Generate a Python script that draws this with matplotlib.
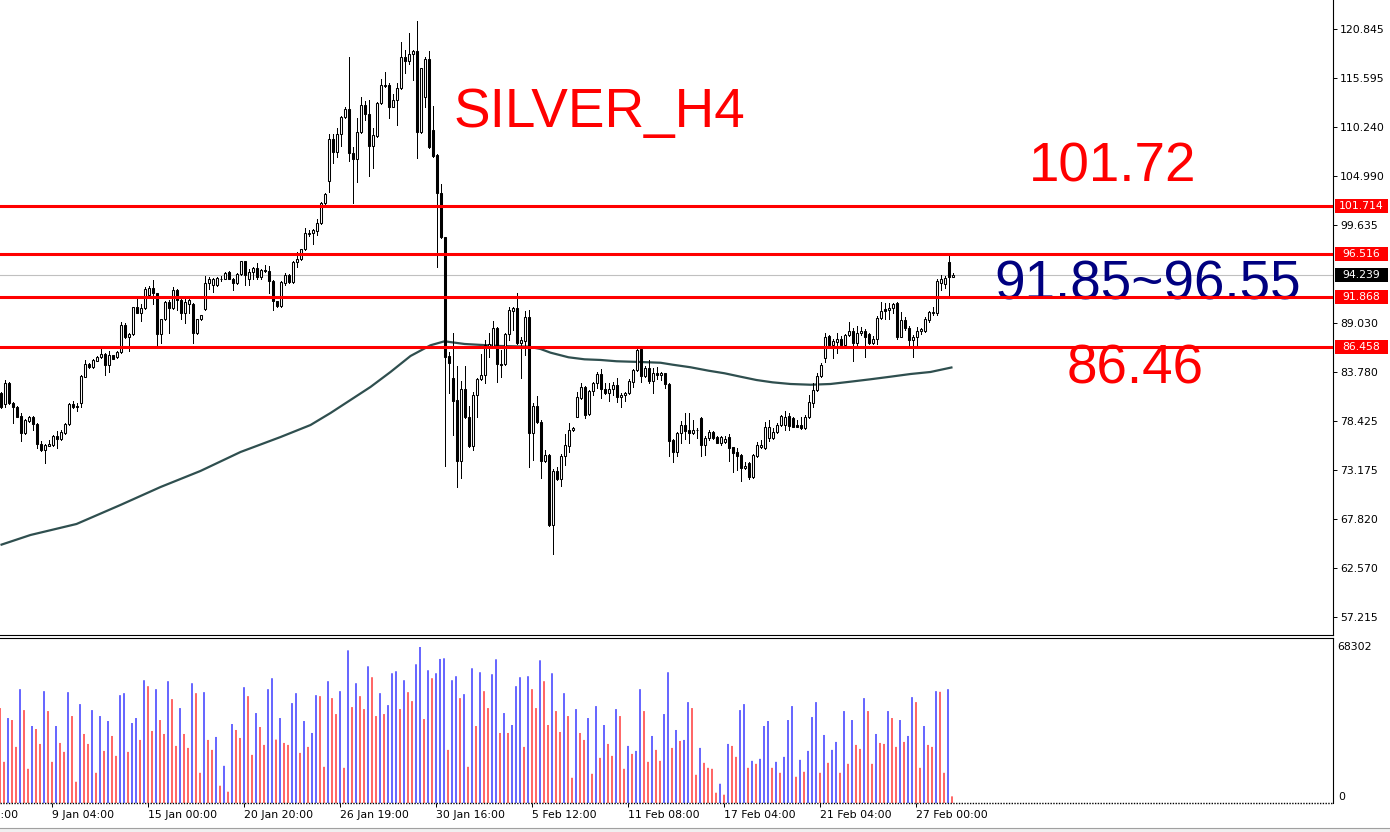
import matplotlib
matplotlib.use('Agg')
import matplotlib.pyplot as plt
import matplotlib.transforms as mtransforms
from matplotlib import font_manager as fm
from matplotlib.patches import Rectangle
from matplotlib.lines import Line2D
import numpy as np

# ---------------- data ----------------
opens = [
81.41, 80.25, 82.49, 80.40, 79.96, 78.95, 77.15, 78.45, 78.88, 78.09,
75.99, 75.34, 75.77, 75.85, 76.79, 76.50, 77.15, 78.09, 80.25, 80.03,
80.40, 83.21, 84.58, 84.22, 84.94, 85.30, 85.67, 84.44, 85.52, 85.30,
85.88, 88.84, 87.47, 87.83, 90.72, 90.14, 90.65, 92.09, 92.81, 92.24,
87.83, 89.42, 91.30, 90.61, 92.59, 91.51, 90.14, 91.08, 91.08, 87.90,
89.42, 90.50, 93.32, 93.10, 93.10, 93.82, 93.82, 94.54, 93.75, 93.32,
94.33, 95.70, 93.82, 94.54, 94.98, 93.97, 94.76, 94.69, 93.61, 91.37,
90.86, 93.39, 94.26, 93.46, 95.63, 95.92, 97.00, 98.66, 98.73, 99.02,
99.82, 101.98, 104.43, 108.91, 107.57, 109.48, 111.29, 112.15, 107.46, 106.74,
109.74, 112.59, 111.61, 108.22, 109.27, 112.80, 114.75, 114.75, 112.44, 113.16,
114.42, 117.78, 117.42, 118.10, 118.46, 109.74, 113.52, 117.56, 109.92, 107.21,
103.06, 98.30, 85.45, 83.03, 80.69, 74.12, 81.85, 78.81, 75.70, 81.23,
82.92, 83.39, 86.53, 86.53, 88.45, 84.59, 84.55, 87.80, 90.36, 90.61,
86.90, 87.11, 89.64, 77.08, 80.04, 78.34, 74.12, 74.73, 67.15, 73.03,
72.16, 74.62, 75.74, 77.44, 78.88, 80.86, 82.13, 79.17, 81.69, 82.56,
83.50, 81.84, 81.41, 81.84, 82.31, 80.97, 81.19, 81.41, 82.67, 83.93,
86.17, 83.28, 84.11, 82.78, 83.57, 83.36, 83.58, 82.42, 76.36, 75.09,
77.08, 77.98, 77.44, 77.08, 77.44, 78.70, 75.82, 76.54, 77.26, 76.72,
76.07, 76.18, 76.65, 75.56, 75.09, 74.73, 73.29, 73.90, 72.39, 74.62,
75.56, 75.46, 76.54, 76.54, 77.26, 77.98, 77.98, 78.96, 78.70, 77.98,
77.98, 77.62, 78.81, 80.39, 81.77, 83.28, 85.19, 87.61, 86.64, 86.99,
87.25, 86.64, 87.72, 88.19, 86.89, 87.90, 88.19, 87.83, 86.89, 87.25,
89.53, 90.50, 90.43, 90.61, 91.22, 87.54, 89.35, 88.52, 87.18, 87.54,
88.19, 88.19, 89.35, 90.07, 90.07, 93.32, 93.25, 95.66, 94.04]

highs = [
81.59, 82.85, 82.67, 80.47, 80.03, 79.24, 78.59, 78.95, 78.95, 78.16,
76.28, 75.92, 76.42, 76.86, 77.36, 77.44, 78.23, 80.32, 80.61, 80.32,
83.36, 85.02, 84.66, 85.09, 85.45, 86.32, 85.74, 86.03, 85.59, 85.95,
89.13, 88.99, 87.90, 90.79, 91.66, 91.08, 92.96, 93.03, 93.68, 92.31,
89.49, 91.44, 91.51, 92.96, 92.67, 91.58, 91.69, 91.69, 91.22, 89.49,
89.92, 94.11, 93.97, 93.89, 93.97, 94.11, 94.54, 94.69, 93.89, 94.40,
95.77, 95.77, 94.91, 95.12, 95.56, 94.91, 95.27, 95.19, 93.68, 91.44,
93.53, 94.40, 94.33, 95.77, 96.71, 97.07, 99.27, 99.09, 99.17, 100.25,
102.12, 103.06, 109.48, 109.48, 110.09, 111.43, 112.37, 117.78, 108.11, 111.18,
113.45, 113.09, 113.16, 110.09, 112.98, 115.43, 116.19, 115.04, 113.81, 114.97,
119.40, 118.57, 120.38, 118.57, 121.71, 116.66, 117.85, 118.46, 112.51, 107.32,
104.07, 98.35, 85.92, 87.91, 84.37, 82.78, 84.37, 80.04, 81.59, 83.03,
85.67, 87.18, 87.91, 89.28, 88.56, 86.10, 87.91, 90.72, 90.72, 92.24,
87.47, 90.36, 90.43, 80.40, 81.12, 78.52, 75.34, 74.84, 73.18, 73.46,
74.84, 77.00, 78.16, 77.80, 81.59, 82.56, 82.20, 81.77, 82.67, 83.75,
84.01, 82.49, 82.49, 82.67, 83.03, 81.48, 81.59, 82.92, 84.08, 86.39,
86.28, 84.37, 85.02, 84.11, 84.22, 83.76, 83.65, 82.57, 76.43, 77.26,
78.45, 79.32, 79.32, 78.52, 77.62, 78.81, 76.79, 77.44, 77.37, 76.79,
76.79, 76.79, 77.01, 75.64, 75.46, 74.84, 74.01, 74.01, 74.84, 76.18,
76.36, 78.34, 78.52, 77.62, 78.16, 79.06, 79.53, 79.24, 78.81, 78.52,
78.81, 79.06, 81.23, 82.49, 83.57, 84.73, 87.90, 87.72, 87.25, 87.97,
87.61, 87.83, 89.17, 88.44, 88.70, 88.62, 88.33, 87.90, 87.61, 89.78,
91.33, 91.22, 91.15, 91.22, 91.33, 90.25, 89.63, 88.70, 87.72, 88.55,
88.44, 89.71, 90.36, 90.79, 93.75, 94.20, 94.11, 96.49, 94.40]

lows = [
79.78, 79.89, 80.25, 78.23, 78.81, 76.28, 77.07, 78.37, 77.44, 75.45,
75.20, 73.83, 75.70, 75.77, 75.45, 76.42, 77.07, 78.01, 79.82, 79.53,
79.89, 83.14, 84.15, 84.15, 84.87, 85.23, 83.43, 83.72, 85.09, 85.23,
85.81, 87.40, 85.95, 87.76, 90.07, 89.28, 90.58, 92.02, 91.08, 86.28,
86.89, 89.35, 87.90, 90.50, 90.43, 89.49, 88.99, 90.07, 86.89, 87.83,
89.35, 90.43, 92.74, 92.41, 93.03, 93.61, 93.75, 93.75, 92.59, 93.25,
94.18, 93.10, 93.17, 93.75, 93.82, 93.82, 94.54, 92.31, 90.43, 90.79,
90.79, 93.10, 93.39, 93.32, 95.12, 95.85, 96.93, 98.45, 97.54, 98.55,
99.74, 101.91, 103.24, 106.31, 107.03, 108.22, 111.21, 106.60, 101.98, 104.32,
109.63, 110.97, 104.97, 105.77, 109.19, 112.73, 114.53, 111.25, 112.37, 110.46,
114.32, 116.12, 117.06, 115.33, 106.85, 109.63, 112.37, 107.97, 107.03, 95.06,
98.23, 73.54, 81.41, 76.90, 71.30, 72.31, 78.70, 75.56, 75.27, 78.88,
82.85, 82.49, 85.38, 86.46, 82.67, 83.21, 84.48, 87.18, 88.27, 86.75,
83.07, 85.56, 73.47, 74.19, 78.23, 72.31, 74.01, 67.04, 64.01, 72.02,
71.44, 73.65, 75.09, 77.36, 78.81, 80.76, 78.70, 79.06, 81.23, 81.95,
80.86, 81.33, 80.61, 81.23, 80.50, 79.96, 80.61, 81.33, 82.06, 83.86,
82.67, 83.21, 82.56, 81.48, 82.92, 82.86, 81.95, 74.62, 74.01, 74.62,
76.00, 76.43, 76.07, 77.01, 76.54, 74.62, 74.73, 76.36, 76.43, 76.00,
75.82, 76.07, 74.12, 72.93, 73.11, 71.95, 73.18, 72.10, 72.31, 74.55,
75.46, 75.35, 76.29, 76.47, 77.08, 77.87, 77.44, 77.44, 77.73, 77.73,
77.58, 77.51, 78.70, 79.96, 81.69, 83.21, 84.83, 86.53, 85.19, 85.74,
86.53, 86.53, 87.61, 84.94, 86.64, 87.72, 85.38, 86.75, 86.75, 86.75,
89.42, 89.42, 89.42, 90.07, 87.25, 87.47, 88.26, 86.46, 85.30, 86.64,
87.83, 88.08, 89.17, 89.90, 89.90, 92.60, 92.80, 92.05, 94.00]

closes = [
79.89, 82.56, 80.32, 79.89, 78.88, 77.15, 78.52, 78.88, 78.09, 75.99,
75.27, 75.81, 75.92, 76.79, 76.50, 77.25, 78.09, 80.25, 79.89, 79.89,
83.28, 84.58, 84.22, 85.02, 85.30, 85.67, 84.44, 85.52, 85.16, 85.88,
88.77, 87.47, 87.83, 90.72, 90.14, 90.65, 92.74, 92.81, 92.24, 87.83,
89.42, 91.30, 90.65, 92.59, 91.51, 90.14, 91.33, 91.51, 87.90, 89.42,
89.85, 93.32, 93.82, 93.82, 93.89, 93.75, 94.40, 93.82, 93.32, 94.33,
95.70, 94.18, 94.54, 94.98, 93.97, 94.76, 94.62, 93.61, 91.37, 90.86,
93.46, 94.26, 93.46, 95.63, 95.92, 97.00, 98.73, 98.73, 99.09, 99.82,
101.98, 102.95, 108.91, 107.57, 109.48, 111.29, 112.15, 107.46, 106.74, 109.74,
112.59, 111.61, 108.22, 109.37, 112.80, 114.75, 114.68, 112.44, 113.16, 114.42,
117.78, 117.42, 118.10, 118.46, 109.74, 116.59, 117.56, 108.04, 107.14, 103.06,
98.30, 85.38, 84.73, 80.61, 74.12, 81.85, 78.81, 75.70, 81.23, 82.92,
83.39, 86.64, 86.71, 88.45, 84.55, 84.51, 87.80, 90.43, 90.61, 86.82,
87.18, 89.64, 77.08, 80.04, 78.34, 74.12, 74.73, 67.15, 73.03, 72.16,
74.62, 75.81, 77.44, 77.72, 80.97, 82.06, 79.06, 81.69, 82.56, 83.50,
81.84, 81.41, 81.84, 82.31, 80.97, 81.19, 81.48, 82.78, 83.93, 86.10,
83.28, 84.11, 82.78, 83.57, 83.36, 83.58, 82.42, 76.28, 75.09, 77.08,
77.98, 77.37, 77.08, 77.44, 77.40, 75.82, 76.54, 77.26, 76.54, 76.07,
76.72, 76.50, 75.46, 74.99, 74.62, 73.29, 73.54, 72.39, 74.73, 75.82,
75.82, 77.73, 77.80, 77.26, 77.98, 78.96, 78.81, 77.87, 77.80, 77.80,
77.69, 78.81, 80.51, 81.77, 83.28, 84.47, 87.54, 86.64, 87.11, 87.25,
86.64, 87.72, 88.19, 86.89, 87.90, 88.19, 87.54, 86.89, 87.25, 89.53,
90.36, 90.36, 90.61, 91.08, 87.47, 89.35, 88.44, 87.18, 87.54, 88.19,
88.33, 89.42, 90.25, 90.25, 93.61, 93.75, 93.86, 94.04, 94.239]

volumes = [
41560, 18020, 37200, 36330, 24560, 49840, 40680, 14970, 33710, 32400,
25860, 48970, 40250, 18020, 33710, 26300, 22380, 48530, 38070, 9300,
43300, 30220, 25860, 40680, 13220, 38070, 22810, 35890, 29350, 20630,
47220, 48090, 22380, 35020, 37200, 27610, 53760, 51150, 31530, 49840,
36330, 30220, 53330, 45480, 24990, 41560, 30220, 24120, 52450, 48090,
13220, 48530, 27610, 23250, 28920, 7560, 16270, 4940, 34580, 31970,
28480, 50710, 46790, 21070, 39380, 33270, 25430, 49840, 54630, 27750,
37200, 26300, 25430, 43740, 48090, 21940, 35890, 24560, 30660, 47220,
46790, 15840, 53330, 45920, 38940, 48970, 15400, 66840, 41990, 52450,
46790, 41120, 59860, 55070, 38070, 48090, 38940, 42860, 56810, 57680,
41120, 53760, 48530, 44610, 60740, 68302, 36760, 58120, 54630, 56810,
63060, 63350, 23250, 53760, 55510, 45920, 47660, 15840, 58990, 33710,
57250, 48970, 41560, 56380, 62920, 30660, 39380, 30660, 34150, 51150,
55070, 24560, 55510, 49840, 41560, 62480, 53330, 34150, 56810, 40250,
31090, 48090, 38070, 11040, 41120, 30660, 27610, 37200, 12790, 42430,
19760, 34150, 25860, 20630, 41120, 38070, 14970, 24990, 21500, 22810,
49840, 40250, 18020, 29350, 23250, 18450, 38940, 57250, 24120, 31970,
27170, 27610, 44170, 41560, 12350, 24120, 17580, 15400, 14970, 4500,
8430, 3630, 25860, 24990, 20200, 40680, 43300, 15400, 18450, 17150,
19330, 33710, 35890, 15400, 18020, 13220, 20200, 36330, 42430, 11480,
18890, 13660, 22810, 37630, 44170, 13220, 29790, 17580, 23250, 26740,
13220, 40250, 17150, 36330, 25430, 23680, 45920, 40250, 17150, 30220,
26300, 25860, 40250, 37200, 24560, 36330, 26740, 29350, 46350, 44170,
15400, 33710, 25430, 24560, 48970, 48680, 13220, 49840, 2910]

# moving average line (bar index, value)
ma_idx = [0, 7.5, 19, 30, 40, 50, 60, 70, 77.5, 82.5, 87.5, 92.5, 97.5, 102.5,
          107.5, 111, 116, 125, 132, 135, 137.5, 142, 146, 150, 154, 160, 165,
          168, 172.5, 177, 181, 185, 189, 193, 197.5, 202.5, 207.5, 212.5,
          217.5, 222.5, 227.5, 232.5, 238]
ma_val = [65.01, 66.09, 67.28, 69.34, 71.28, 73.02, 75.07, 76.69, 77.99, 79.29,
          80.70, 82.11, 83.73, 85.46, 86.62, 87.05, 86.76, 86.54, 86.47, 86.22,
          85.82, 85.32, 85.10, 85.03, 84.89, 84.81, 84.73, 84.52, 84.24, 83.87,
          83.59, 83.22, 82.86, 82.61, 82.43, 82.35, 82.43, 82.68, 82.94, 83.22,
          83.51, 83.73, 84.24]

levels = [101.714, 96.516, 91.868, 86.458]
level_labels = ['101.714', '96.516', '91.868', '86.458']
bid = 94.239
bid_label = '94.239'

price_ticks = [120.845, 115.595, 110.240, 104.990, 99.635, 89.030, 83.780,
               78.425, 73.175, 67.820, 62.570, 57.215]
price_tick_labels = ['120.845', '115.595', '110.240', '104.990', '99.635',
                     '89.030', '83.780', '78.425', '73.175', '67.820',
                     '62.570', '57.215']

date_tick_idx = [-11, 13, 37, 61, 85, 109, 133, 157, 181, 205, 229]
date_tick_labels = ['5 Jan 07:00', '9 Jan 04:00', '15 Jan 00:00', '20 Jan 20:00',
                    '26 Jan 19:00', '30 Jan 16:00', '5 Feb 12:00', '11 Feb 08:00',
                    '17 Feb 04:00', '21 Feb 04:00', '27 Feb 00:00']

vol_max_label = '68302'
vol_max = 68302

title_text = 'SILVER_H4'
note_top = '101.72'
note_mid = '91.85~96.55'
note_low = '86.46'

# ---------------- layout ----------------
W, H = 1390, 832
fig = plt.figure(figsize=(W / 100, H / 100), dpi=100)
fig.patch.set_facecolor('white')

MAIN_BOT = 635
VOL_TOP, VOL_BOT = 638, 803
RIGHT = 1333

ax = fig.add_axes([0, 1 - MAIN_BOT / H, RIGHT / W, MAIN_BOT / H])
axv = fig.add_axes([0, 1 - VOL_BOT / H, RIGHT / W, (VOL_BOT - VOL_TOP) / H])

n = min(len(opens), len(highs), len(lows), len(closes))
o = np.array(opens[:n]); h = np.array(highs[:n]); l = np.array(lows[:n]); c = np.array(closes[:n])
xi = np.arange(n)

tick_font = 'DejaVu Sans'
TFS = 7.8

# x range: 4 px per bar, bar centres on pixel centres
xl = (-0.125, RIGHT / 4 - 0.125)

top_price = 123.983
ppu = 9.241

# grey bid line
ax.axhline(bid, color='#C0C0C0', lw=0.8, zorder=1)

# moving average
ax.plot(ma_idx, ma_val, color='#2F4F4F', lw=1.6, zorder=2.5, solid_capstyle='butt')

# candles
hi = np.maximum.reduce([h, o, c])
lo = np.minimum.reduce([l, o, c])
ax.vlines(xi, lo, hi, color='black', lw=0.5, zorder=3, antialiased=False)
up = c >= o
bb = np.minimum(o, c)
bh = np.abs(c - o)
ax.bar(xi[up], bh[up], 0.5, bb[up], facecolor='white', edgecolor='black',
       linewidth=0.75, zorder=4)
ax.bar(xi[~up], bh[~up], 0.5, bb[~up], facecolor='black', edgecolor='black',
       linewidth=0.75, zorder=4)

# red levels
for lv in levels:
    ax.axhline(lv, color='#FF0000', lw=2.2, zorder=6)

# big annotation texts (drawn under the red lines)
names = {f.name for f in fm.fontManager.ttflist}
if 'Liberation Sans Narrow' in names:
    big_family, big_size = 'Liberation Sans Narrow', 42
else:
    big_family, big_size = 'Liberation Sans', 39.5


def ax_text(xpx, ypx, s, **kw):
    ax.text(xpx / RIGHT, 1 - ypx / MAIN_BOT, s, transform=ax.transAxes,
            ha='left', va='baseline', family=big_family, fontsize=big_size,
            zorder=5, **kw)


ax_text(454, 127, title_text, color='#FF0000')
ax_text(1029, 181, note_top, color='#FF0000')
ax_text(994, 299, note_mid, color='#000080')
ax_text(1067, 383, note_low, color='#FF0000')

# axes styling
for a in (ax, axv):
    a.spines['left'].set_visible(False)
    a.spines['right'].set_color('black')
    a.spines['right'].set_linewidth(0.8)
ax.spines['top'].set_visible(False)
ax.spines['bottom'].set_color('black')
ax.spines['bottom'].set_linewidth(0.8)
axv.spines['top'].set_color('black')
axv.spines['top'].set_linewidth(0.8)
axv.spines['bottom'].set_visible(False)

ax.set_xticks([])
ax.yaxis.tick_right()
ax.set_yticks(price_ticks)
ax.set_yticklabels(price_tick_labels, family=tick_font, fontsize=TFS)
ax.tick_params(axis='y', direction='out', length=3, width=0.7, pad=2, colors='black')

# volumes (drawn in a separate axis frame shifted half a pixel so the thin
# coloured bars keep their hue when rendered)
vol = np.array(volumes[:n])
vcol = ['#FF0000'] + ['#0000FF' if vol[i] > vol[i - 1] else '#FF0000' for i in range(1, n)]
axv.vlines(xi, 0, vol, colors=vcol, lw=0.85, antialiased=True, snap=False)
axv.axhline(0, color='black', lw=1.0, linestyle=(0, (1, 1)), clip_on=False, zorder=5)
axv.set_yticks([])
axv.set_xticks(date_tick_idx)
axv.set_xticklabels([''] * len(date_tick_idx))
axv.tick_params(axis='x', direction='out', length=3, width=0.7, colors='black')

# limits (set after ticks so tick placement cannot widen them)
ax.set_xlim(*xl)
axv.set_xlim(0, RIGHT / 4)
ax.set_ylim(top_price - MAIN_BOT / ppu, top_price)
axv.set_ylim(0, vol_max * (VOL_BOT - VOL_TOP) / (VOL_BOT - 647))

# right-side price boxes
trans = mtransforms.blended_transform_factory(ax.transAxes, ax.transData)
bx0 = 1335 / RIGHT
bw = 53 / RIGHT
bhgt = 14 / ppu
for lv, lab in zip(levels, level_labels):
    ax.add_patch(Rectangle((bx0, lv - bhgt / 2), bw, bhgt, transform=trans,
                           facecolor='#FF0000', edgecolor='none', clip_on=False, zorder=10))
    ax.text(bx0 + bw / 2, lv, lab, transform=trans, ha='center', va='center',
            color='white', family=tick_font, fontsize=TFS, clip_on=False, zorder=11)
ax.add_patch(Rectangle((bx0, bid - bhgt / 2), bw, bhgt, transform=trans,
                       facecolor='black', edgecolor='none', clip_on=False, zorder=10))
ax.text(bx0 + bw / 2, bid, bid_label, transform=trans, ha='center', va='center',
        color='white', family=tick_font, fontsize=TFS, clip_on=False, zorder=11)

fig.text(1337 / W, 1 - 647 / H, vol_max_label, ha='left', va='center',
         family=tick_font, fontsize=TFS)
fig.text(1338 / W, 1 - 797 / H, '0', ha='left', va='center',
         family=tick_font, fontsize=TFS)

# date labels (the first one is partly outside the window, as in the reference)
dtrans = mtransforms.blended_transform_factory(axv.transData, fig.transFigure)
for xv, lab in zip(date_tick_idx, date_tick_labels):
    axv.text(xv, 1 - 815 / H, lab, transform=dtrans, ha='left', va='center',
             family=tick_font, fontsize=TFS, clip_on=False)

# bottom window edge
fig.add_artist(Rectangle((0, 0), 1, 4 / H, transform=fig.transFigure,
                         facecolor='#F0F0F0', edgecolor='none'))
fig.add_artist(Line2D([0, 1], [4 / H, 4 / H], transform=fig.transFigure,
                      color='#A0A0A0', lw=0.8))

fig.savefig('out.png', dpi=100, facecolor='white')
